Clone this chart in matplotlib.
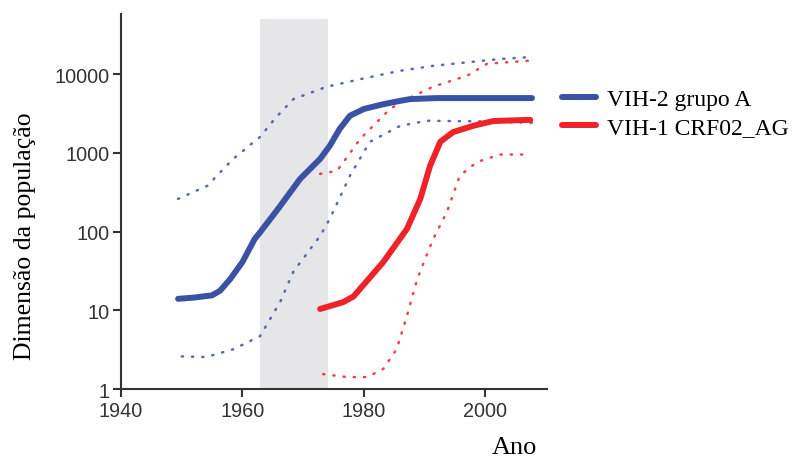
import numpy as np
import matplotlib.pyplot as plt
from matplotlib.ticker import FixedLocator, FixedFormatter, NullLocator

# dados (ano, dimensao da populacao)
hiv2_anos = [1949.4, 1952, 1955, 1956.3, 1958, 1960, 1962, 1963, 1966, 1969.5, 1972.8,
             1974.4, 1976, 1977.7, 1980, 1983, 1986, 1987.6, 1992, 2000, 2007.7]
hiv2_med = [14, 14.5, 15.5, 17.7, 25, 41, 80, 100, 200, 466, 837,
            1230, 2000, 2950, 3600, 4100, 4570, 4800, 4950, 4950, 4950]

hiv2_sup_anos = [1949.4, 1954.2, 1958.5, 1962.9, 1965.5, 1968.4, 1973.9, 1980, 1986, 1991.4, 2002.4, 2007.9]
hiv2_sup = [260, 380, 840, 1590, 2800, 4800, 6900, 8800, 11000, 12700, 15500, 16500]

hiv2_inf_anos = [1950, 1954, 1958.5, 1962.9, 1966.2, 1968.4, 1972.8, 1974.4, 1977.7, 1981,
                 1986, 1990.4, 2000, 2007.9]
hiv2_inf = [2.6, 2.55, 3.2, 4.7, 12.7, 31, 88, 145, 510, 1380, 2200, 2550, 2500, 2400]

crf_anos = [1972.8, 1976.6, 1978.3, 1983.2, 1987.1, 1989.3, 1990.9, 1992.6, 1994.7, 1998, 2001.3, 2007.4]
crf_med = [10.4, 12.7, 15, 41, 108, 260, 680, 1380, 1830, 2200, 2530, 2620]

crf_sup_anos = [1972.8, 1975.6, 1979.4, 1984.3, 1987.1, 1991.4, 1997, 2000.3, 2007.4]
crf_sup = [540, 590, 1500, 3600, 4800, 6900, 9500, 13500, 14800]

crf_inf_anos = [1973.3, 1977.2, 1980.5, 1983.2, 1985.4, 1987.1, 1988.8, 1991.4, 1993.7,
                1995.8, 1998.6, 2002.4, 2006.9]
crf_inf = [1.55, 1.42, 1.42, 1.8, 3.2, 8.5, 25, 80, 178, 510, 760, 950, 950]

faixa = (1962.9, 1974.1)

azul = '#3a52a3'
vermelho = '#ee2229'
serif = ['Liberation Serif', 'DejaVu Serif']

fig = plt.figure(figsize=(7.93, 4.6), dpi=100)
ax = fig.add_axes([0.1526, 0.152, 0.5374, 0.815])

ax.fill_between(faixa, [1, 1], [50000, 50000], color='#e6e6e8', lw=0, zorder=0)

pontilhado = (0, (0.5, 3.6))
for xs, ys, cor in [(hiv2_sup_anos, hiv2_sup, azul), (hiv2_inf_anos, hiv2_inf, azul),
                    (crf_sup_anos, crf_sup, vermelho), (crf_inf_anos, crf_inf, vermelho)]:
    ax.plot(xs, ys, color=cor, lw=1.8, ls=pontilhado, dash_capstyle='round', alpha=0.85)
l1, = ax.plot(hiv2_anos, hiv2_med, color=azul, lw=4.3, solid_capstyle='round', label='VIH-2 grupo A')
l2, = ax.plot(crf_anos, crf_med, color=vermelho, lw=4.3, solid_capstyle='round', label='VIH-1 CRF02_AG')

ax.set_yscale('log')
ax.set_xlim(1940, 2010.2)
ax.set_ylim(1, 57500)
ax.yaxis.set_major_locator(FixedLocator([1, 10, 100, 1000, 10000]))
ax.yaxis.set_major_formatter(FixedFormatter(['1', '10', '100', '1000', '10000']))
ax.yaxis.set_minor_locator(NullLocator())
ax.set_xticks([1940, 1960, 1980, 2000])

for s in ['top', 'right']:
    ax.spines[s].set_visible(False)
for s in ['left', 'bottom']:
    ax.spines[s].set_color('#333333')
    ax.spines[s].set_linewidth(1.5)
ax.tick_params(length=5.5, width=1.5, color='#333333', labelsize=14.3,
               labelcolor='#333333', pad=3)
for t in ax.get_xticklabels() + ax.get_yticklabels():
    t.set_family(['Liberation Sans', 'DejaVu Sans'])

fig.text(0.032, 0.487, 'Dimensão da população', family=serif, fontsize=18.5,
         rotation=90, ha='center', va='center')
fig.text(0.649, 0.025, 'Ano', family=serif, fontsize=19, ha='center', va='center')

leg = fig.legend(handles=[l1, l2], loc='upper left', bbox_to_anchor=(0.7087, 0.805),
                 frameon=False, prop={'family': serif, 'size': 17},
                 borderpad=0, borderaxespad=0,
                 handlelength=1.45, handletextpad=0.45, labelspacing=0.27)

fig.savefig('out.png', dpi=100)
